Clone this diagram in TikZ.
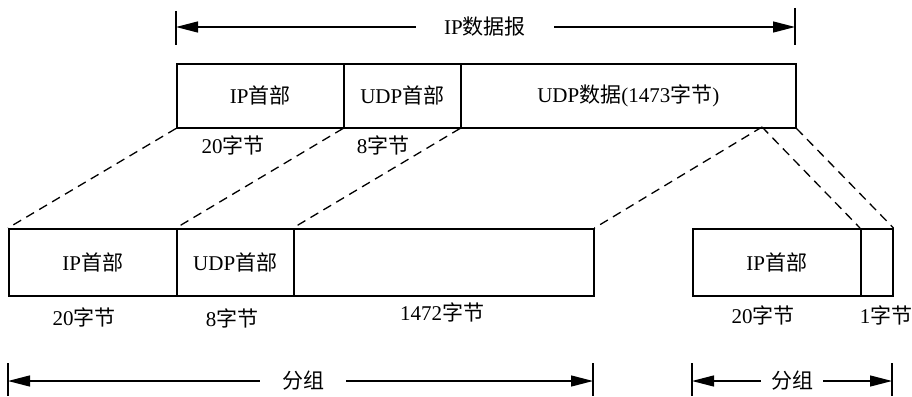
\documentclass[tikz,border=0pt]{standalone}
\usepackage{fontspec}
\setmainfont{Liberation Serif}
\newfontfamily\cjk{Noto Sans CJK SC}
\newcommand{\zh}[1]{{\cjk #1}}
\usetikzlibrary{arrows.meta}

\tikzset{
  field/.style={draw, line width=1.5pt, anchor=north west, inner sep=0pt},
  measure/.style={line width=1.3pt, -{Triangle[length=22pt,width=11pt]}},
  tick/.style={line width=1.3pt},
  cut/.style={dashed, line width=1.3pt, dash pattern=on 9pt off 6pt},
}

\begin{document}
\begin{tikzpicture}[x=1pt,y=-1pt,font=\fontsize{21}{24}\selectfont]
\useasboundingbox (0,0) rectangle (912,396);
% IP datagram
\node[field, minimum width=167pt, minimum height=64pt] (tip) at (176,63) {IP\zh{首部}};
\node[field, minimum width=117pt, minimum height=64pt] (tudp) at (343,63) {UDP\zh{首部}};
\node[field, minimum width=335pt, minimum height=64pt] (tdata) at (460,63) {UDP\zh{数据}(1473\zh{字节})};
\node (tsz1) at (233,145) {20\zh{字节}};
\node (tsz2) at (383,145) {8\zh{字节}};
\coordinate (split) at (762,127);

\coordinate (dgL) at (176,27);
\coordinate (dgR) at (795,27);
\node[inner xsep=28pt] (dglabel) at (485,27) {IP\zh{数据报}};
\draw[measure] (dglabel) -- (dgL);
\draw[measure] (dglabel) -- (dgR);
\draw[tick] (176,11) -- (176,45);
\draw[tick] (795,8) -- (795,45);

% first fragment
\node[field, minimum width=168pt, minimum height=67pt] (aip) at (8,228) {IP\zh{首部}};
\node[field, minimum width=117pt, minimum height=67pt] (audp) at (176,228) {UDP\zh{首部}};
\node[field, minimum width=300pt, minimum height=67pt] (adata) at (293,228) {};
\node (asz1) at (84,317) {20\zh{字节}};
\node (asz2) at (232,318) {8\zh{字节}};
\node (asz3) at (442,312) {1472\zh{字节}};

\coordinate (fgL) at (8,381);
\coordinate (fgR) at (593,381);
\node[inner xsep=22pt] (fglabel) at (303,381) {\zh{分组}};
\draw[measure] (fglabel) -- (fgL);
\draw[measure] (fglabel) -- (fgR);
\draw[tick] (8,363) -- (8,396);
\draw[tick] (593,363) -- (593,396);

% second fragment
\node[field, minimum width=168pt, minimum height=67pt] (bip) at (692,228) {IP\zh{首部}};
\node[field, minimum width=32pt, minimum height=67pt] (bdata) at (860,228) {};
\node (bsz1) at (763,315) {20\zh{字节}};
\node (bsz2) at (886,315) {1\zh{字节}};

\coordinate (sgL) at (692,381);
\coordinate (sgR) at (892,381);
\node[inner xsep=10pt] (sglabel) at (792,381) {\zh{分组}};
\draw[measure] (sglabel) -- (sgL);
\draw[measure] (sglabel) -- (sgR);
\draw[tick] (692,363) -- (692,396);
\draw[tick] (892,363) -- (892,396);

% fragmentation lines
\draw[cut] (tip.south west) -- (aip.north west);
\draw[cut] (tudp.south west) -- (audp.north west);
\draw[cut] (tdata.south west) -- (adata.north west);
\draw[cut] (split) -- (adata.north east);
\draw[cut] (split) -- (bdata.north west);
\draw[cut] (tdata.south east) -- (bdata.north east);
\end{tikzpicture}
\end{document}
